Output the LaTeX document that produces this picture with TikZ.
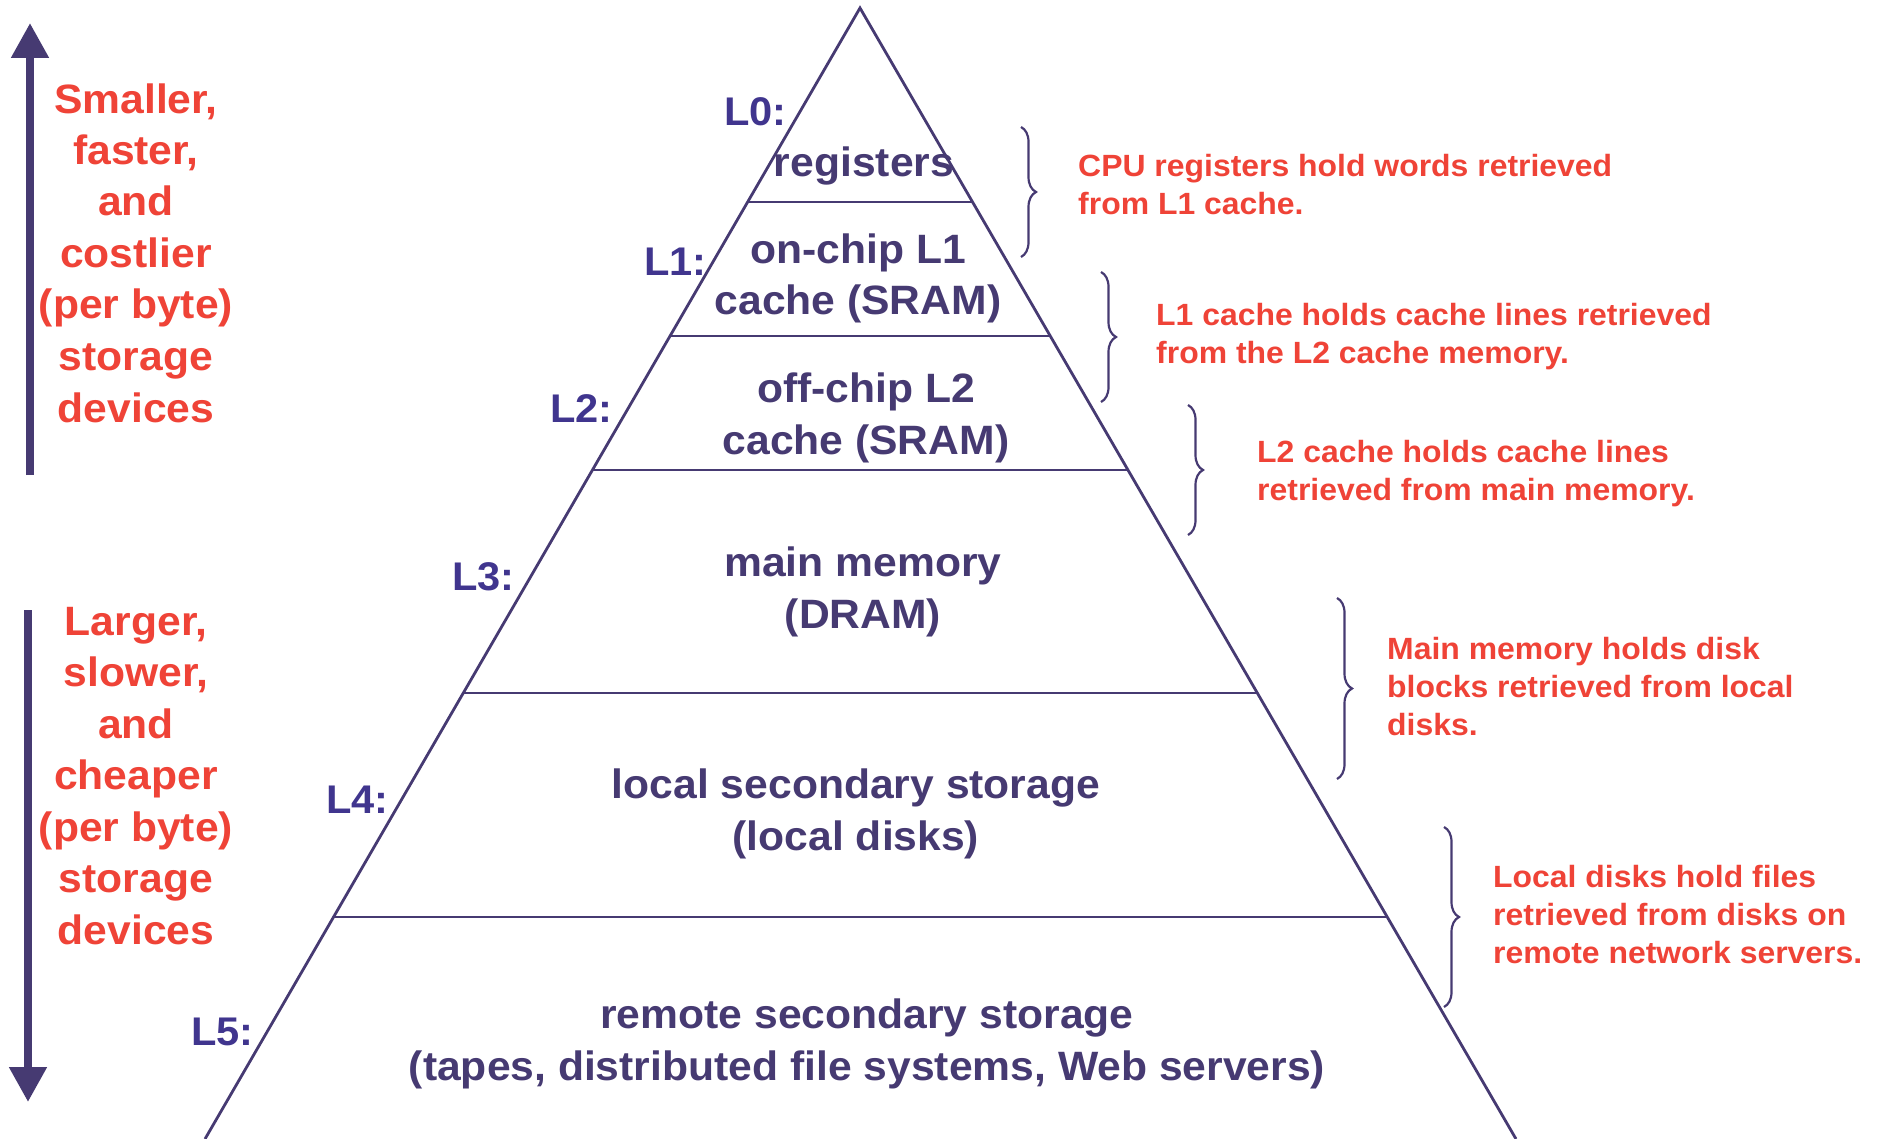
\documentclass[tikz,border=0pt]{standalone}
\usepackage{fontspec}
\setmainfont[FakeStretch=1.04]{Liberation Sans}
\usepackage{tikz}
\usetikzlibrary{calc,arrows.meta,decorations.pathreplacing}

\definecolor{pyrnavy}{RGB}{70,58,114}
\definecolor{lvlblue}{RGB}{64,53,142}
\definecolor{notered}{RGB}{239,67,55}

\tikzset{
	level/.style={font=\fontsize{41}{51.5}\selectfont\bfseries,
		text=pyrnavy, align=center, inner sep=0, anchor=base},
	lvltag/.style={font=\fontsize{40}{51.5}\selectfont\bfseries,
		text=lvlblue, inner sep=0, anchor=base east},
	sidetext/.style={font=\fontsize{41}{51.5}\selectfont\bfseries,
		text=notered, align=center, inner sep=0, anchor=base},
	note/.style={font=\fontsize{30.7}{38}\selectfont\bfseries,
		text=notered, align=left, inner sep=0, anchor=base west},
	notebrace/.style={draw=pyrnavy, line width=2.2pt,
		decorate, decoration={brace, amplitude=15pt}},
	bigarrow/.style={draw=pyrnavy, line width=8pt,
		-{Triangle[length=35pt 0 1, width=36pt 0 1]}}
}

\begin{document}
\begin{tikzpicture}[x=1pt,y=-1pt]
		\useasboundingbox (0,0) rectangle (1879,1139);

		\coordinate (top) at (860,8);
		\coordinate (bl) at (205,1139);
		\coordinate (br) at (1516,1139);

		\draw[pyrnavy, line width=2.8pt] (bl) -- (top) -- (br);

		\foreach \yy in {202,336,470,693,917}
		\draw[pyrnavy, line width=2.8pt]
		($(top)!{(\yy-8)/1131}!(bl)$) -- ($(top)!{(\yy-8)/1131}!(br)$);

		\node[level] (registers) at (864,177) {registers};
		\node[level] (l1cache) at (858,315) {on-chip L1\\cache (SRAM)};
		\node[level] (l2cache) at (866,454) {off-chip L2\\cache (SRAM)};
		\node[level] (mainmem) at (863,628) {main memory\\(DRAM)};
		\node[level] (localdisk) at (856,850) {local secondary storage\\(local disks)};
		\node[level] (remotedisk) at (867,1080)
		{remote secondary storage\\(tapes, distributed file systems, Web servers)};

		\node[lvltag] (lab0) at (787,126) {L0:};
		\node[lvltag] (lab1) at (707,276) {L1:};
		\node[lvltag] (lab2) at (613,422) {L2:};
		\node[lvltag] (lab3) at (515,590) {L3:};
		\node[lvltag] (lab4) at (389,813) {L4:};
		\node[lvltag] (lab5) at (254,1045) {L5:};

		\node[sidetext] (faster) at (136,422)
		{Smaller,\\faster,\\and\\costlier\\(per byte)\\storage\\devices};
		\node[sidetext] (slower) at (136,944)
		{Larger,\\slower,\\and\\cheaper\\(per byte)\\storage\\devices};

		\coordinate (upbot) at (30,475);
		\coordinate (uptop) at (30,23);
		\coordinate (downtop) at (28,610);
		\coordinate (downbot) at (28,1102);
		\draw[bigarrow] (upbot) -- (uptop);
		\draw[bigarrow] (downtop) -- (downbot);

		\node[note] (note0) at (1078,215)
		{CPU registers hold words retrieved\\from L1 cache.};
		\node[note] (note1) at (1156,363)
		{L1 cache holds cache lines retrieved\\from the L2 cache memory.};
		\node[note] (note2) at (1257,500)
		{L2 cache holds cache lines\\retrieved from main memory.};
		\node[note] (note3) at (1387,735)
		{Main memory holds disk\\blocks retrieved from local\\disks.};
		\node[note] (note4) at (1493,963)
		{Local disks hold files\\retrieved from disks on\\remote network servers.};

		\coordinate (b0a) at (1021,127);
		\coordinate (b0b) at (1021,257);
		\coordinate (b1a) at (1101,272);
		\coordinate (b1b) at (1101,402);
		\coordinate (b2a) at (1188,405);
		\coordinate (b2b) at (1188,535);
		\coordinate (b3a) at (1337,598);
		\coordinate (b3b) at (1337,779);
		\coordinate (b4a) at (1444,827);
		\coordinate (b4b) at (1444,1007);
		\draw[notebrace] (b0a) -- (b0b);
		\draw[notebrace] (b1a) -- (b1b);
		\draw[notebrace] (b2a) -- (b2b);
		\draw[notebrace] (b3a) -- (b3b);
		\draw[notebrace] (b4a) -- (b4b);
	\end{tikzpicture}
\end{document}
